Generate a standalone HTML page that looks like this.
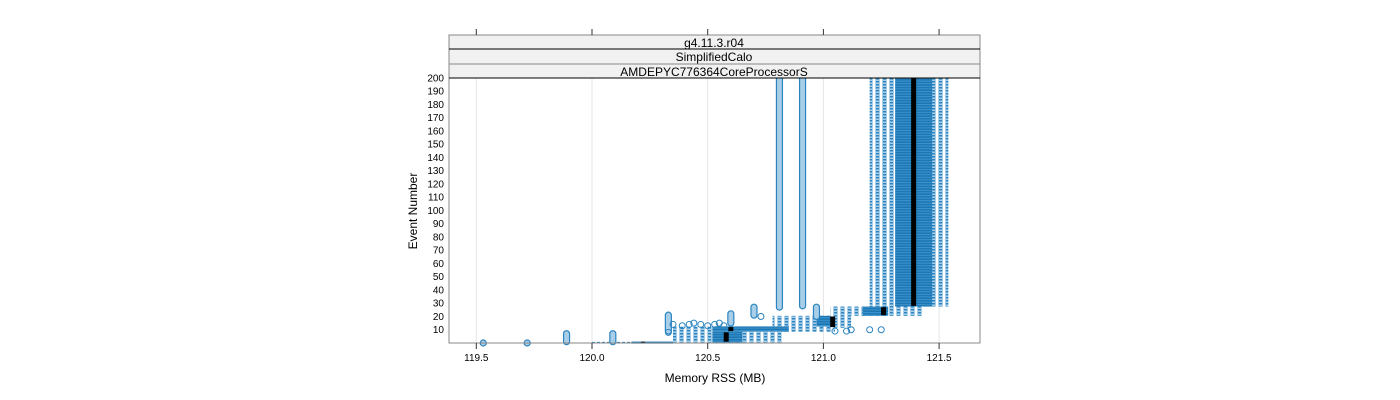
<!DOCTYPE html>
<html><head><meta charset="utf-8"><style>
html,body{margin:0;padding:0;background:#fff}
svg{display:block;font-family:"Liberation Sans",sans-serif}
</style></head><body>
<svg id="chart" width="1400" height="400" viewBox="0 0 1400 400">
<defs>
<pattern id="light" width="7" height="3" patternUnits="userSpaceOnUse">
<rect width="7" height="3" fill="#fff"/>
<rect x="0" width="5" height="3" fill="#a9cfe8"/>
<rect x="1" width="3" height="1.5" fill="#2b84c0"/>
</pattern>
<pattern id="dense" width="4" height="2.6" patternUnits="userSpaceOnUse">
<rect width="4" height="2.6" fill="#1b77b3"/>
<rect width="4" height="1" fill="#3f93cc"/>
</pattern>
</defs>
<g id="grid"></g>
<g id="marks"></g>
<rect x="449" y="78" width="531" height="265" fill="none" stroke="#888" stroke-width="1"/>
<g>
<rect x="449" y="35" width="531" height="14" fill="#f1f1f1" stroke="#888"/>
<rect x="449" y="49" width="531" height="15" fill="#f1f1f1" stroke="#888"/>
<rect x="449" y="64" width="531" height="14" fill="#f1f1f1" stroke="#888"/>
<line x1="449" y1="49" x2="980" y2="49" stroke="#000"/>
<line x1="449" y1="78" x2="980" y2="78" stroke="#000"/>
<text x="714" y="47" font-size="12" text-anchor="middle">g4.11.3.r04</text>
<text x="714" y="61" font-size="12" text-anchor="middle">SimplifiedCalo</text>
<text x="714" y="76" font-size="12" text-anchor="middle">AMDEPYC776364CoreProcessorS</text>
</g>
<g id="axes"></g>
<text x="715" y="382" font-size="12" text-anchor="middle">Memory RSS (MB)</text>
<text x="0" y="0" font-size="12" text-anchor="middle" transform="translate(417,211) rotate(-90)">Event Number</text>
</svg>
<script>
const xTicks=[119.5,120.0,120.5,121.0,121.5];
const xTickLabels=["119.5","120.0","120.5","121.0","121.5"];
const yTicks=[10,20,30,40,50,60,70,80,90,100,110,120,130,140,150,160,170,180,190,200];
// bands: memory range (light) , dense core range, event range, median memory
const bandXmin=[121.20,121.03,120.78,120.35,120.35];
const bandXmax=[121.54,121.43,121.12,121.05,120.82];
const bandCoreMin=[121.31,121.17,120.97,120.52,120.52];
const bandCoreMax=[121.47,121.28,121.03,120.85,120.65];
const bandEvMin=[28,21,12,9,1];
const bandEvMax=[200,27,20,12,8];
const bandMedian=[121.39,121.26,121.04,120.60,120.58];
// tall columns
const colX=[120.81,120.91];
const colEvMin=[27,28];
const colEvMax=[200,200];
// small scatter columns
const scatX=[119.53,119.72,119.89,120.09,120.33,120.6,120.7,120.97];
const scatEvMin=[0,0,1,1,9,15,21,20];
const scatEvMax=[0,0,7,7,21,22,27,27];
// scattered open points
const ptX=[120.35,120.39,120.42,120.44,120.47,120.53,120.55,120.57,121.05,121.1,121.12,121.2,121.25,120.33,120.5,120.73];
const ptEv=[14,13,14,15,14,14,15,13,9,9,10,10,10,8,13,20];
const trailXmin=[120.17];
const trailXmax=[120.35];

const X=v=>592+(v-120)*231.4;
const Y=e=>343-e*1.326;
const ns="http://www.w3.org/2000/svg";
function mk(tag,attrs,parent){const el=document.createElementNS(ns,tag);for(const k in attrs)el.setAttribute(k,attrs[k]);parent.appendChild(el);return el;}
const grid=document.getElementById('grid'),marks=document.getElementById('marks'),axes=document.getElementById('axes');
xTicks.forEach((t,i)=>{
 const g=mk('line',{x1:X(t),x2:X(t),y1:78,y2:343,stroke:'#e6e6e6'},grid);
 
 
 const a=mk('line',{x1:X(t),x2:X(t),y1:343,y2:349,stroke:'#333'},axes);
 
 
 const b=mk('line',{x1:X(t),x2:X(t),y1:29,y2:35,stroke:'#333'},axes);
 
 
 const tx=mk('text',{x:X(t),y:361,'font-size':10,'text-anchor':'middle'},axes);
 tx.textContent=xTickLabels[i];
 
 
});
yTicks.forEach(t=>{
 const tx=mk('text',{x:444,y:Y(t)+3.5,'font-size':10,'text-anchor':'end'},axes);
 tx.textContent=String(t);
 
 
});
// trail along bottom
trailXmin.forEach((v,i)=>{
 const l=mk('line',{x1:X(120.0),x2:X(120.35),y1:Y(0.3),y2:Y(0.3),stroke:'#2b84c0','stroke-dasharray':'3 2','stroke-width':1.5},marks);
 
 
 const m=mk('line',{x1:X(v),x2:X(trailXmax[i]),y1:Y(0.3),y2:Y(0.3),stroke:'#1b77b3','stroke-width':2},marks);
 
 
});
bandXmin.forEach((v,i)=>{
 const r=mk('rect',{x:X(v),y:Y(bandEvMax[i]+0.5),width:X(bandXmax[i])-X(v),height:Y(bandEvMin[i]-0.5)-Y(bandEvMax[i]+0.5),fill:'url(#light)'},marks);
 
 
 const c=mk('rect',{x:X(bandCoreMin[i]),y:Y(bandEvMax[i]+0.5),width:X(bandCoreMax[i])-X(bandCoreMin[i]),height:Y(bandEvMin[i]-0.5)-Y(bandEvMax[i]+0.5),fill:'url(#dense)'},marks);
 
 
});
function column(x,e0,e1,name){
 const g=mk('rect',{x:X(x)-3,y:Y(e1)-3,width:6,height:Y(e0)-Y(e1)+6,rx:3,fill:'#a9cfe8',stroke:'#2b84c0','stroke-width':1.2},marks);
 
 
}
colX.forEach((v,i)=>column(v,colEvMin[i],colEvMax[i],'tall-column'));
scatX.forEach((v,i)=>column(v,scatEvMin[i],scatEvMax[i],'scatter-column'));
ptX.forEach((v,i)=>{
 const p=mk('circle',{cx:X(v),cy:Y(ptEv[i]),r:3,fill:'none',stroke:'#2b84c0','stroke-width':1},marks);
 
 
});
bandMedian.forEach((v,i)=>{
 const m=mk('line',{x1:X(v),x2:X(v),y1:Y(bandEvMax[i]),y2:Y(bandEvMin[i]),stroke:'#000','stroke-width':5},marks);
 
 
});
const md=mk('line',{x1:X(120.22),x2:X(120.22),y1:Y(1),y2:Y(0),stroke:'#000','stroke-width':4},marks);


</script>
</body></html>
